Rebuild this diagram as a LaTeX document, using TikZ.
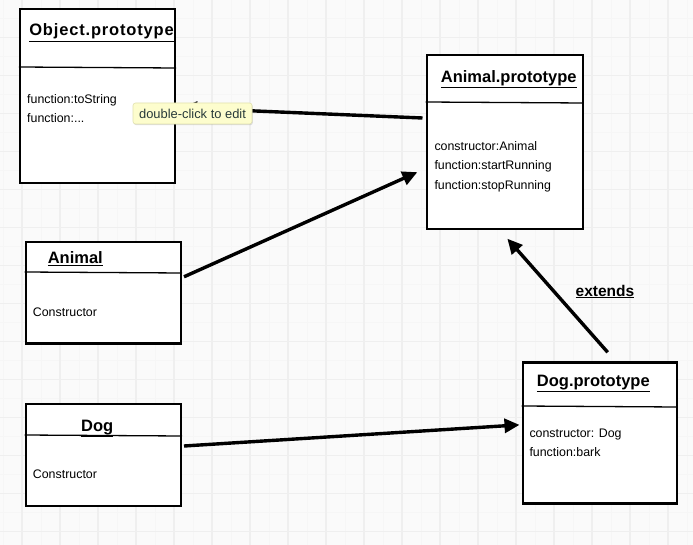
\documentclass[tikz,border=0pt]{standalone}
\usepackage{fontspec}
\setmainfont{Liberation Sans}
\usetikzlibrary{calc,arrows.meta,shadows}
\definecolor{bgc}{RGB}{250,250,250}
\definecolor{gmaj}{RGB}{239,239,239}
\definecolor{gmin}{RGB}{246,246,246}
\definecolor{tipfill}{RGB}{253,253,205}
\definecolor{tipdraw}{RGB}{225,225,175}
\definecolor{tiptext}{RGB}{40,58,58}
\tikzset{
  umlbox/.style={draw=black, line width=2.4pt, fill=white, inner sep=0pt},
  divider/.style={draw=black, line width=1.3pt},
  ttl/.style={anchor=base, inner sep=0pt, font=\fontsize{16.5}{18}\selectfont\bfseries},
  body/.style={anchor=base west, inner sep=0pt, font=\fontsize{12.4}{14}\selectfont},
  conn/.style={line width=3.4pt, -{Triangle[length=15pt,width=14pt]}, shorten >=-2pt},
}
\begin{document}
\begin{tikzpicture}[x=1pt,y=-1pt]
\useasboundingbox (0,0) rectangle (693,545);
\fill[bgc] (0,0) rectangle (693,545);
\foreach \i in {0,...,18} {
  \draw[gmin, line width=0.9pt] (3+38*\i,0) -- (3+38*\i,545);
}
\foreach \j in {0,...,14} {
  \draw[gmin, line width=0.9pt] (0,18.5+38*\j) -- (693,18.5+38*\j);
}
\foreach \i in {0,...,18} {
  \draw[gmaj, line width=1.6pt] (22+38*\i,0) -- (22+38*\i,545);
}
\foreach \j in {0,...,14} {
  \draw[gmaj, line width=1.6pt] (0,37.5+38*\j) -- (693,37.5+38*\j);
}

% boxes
\node[umlbox, minimum width=155pt, minimum height=174pt] (op) at (97.5,96) {};
\node[umlbox, minimum width=156pt, minimum height=174pt] (ap) at (504.7,142) {};
\node[umlbox, minimum width=155pt, minimum height=101pt] (an) at (103.3,292.8) {};
\node[umlbox, minimum width=155pt, minimum height=102pt] (dog) at (103.3,455) {};
\node[umlbox, minimum width=154pt, minimum height=141pt] (dp) at (599.7,433) {};

% dividers
\draw[divider] (op.west |- 0,67) -- (op.east |- 0,68);
\draw[divider] (ap.west |- 0,102) -- (ap.east |- 0,103);
\draw[divider] (an.west |- 0,272) -- (an.east |- 0,273);
\draw[divider] (dog.west |- 0,435) -- (dog.east |- 0,436);
\draw[divider] (dp.west |- 0,406) -- (dp.east |- 0,407);

% titles
\node[ttl] (opt) at (101.5,36) {\underline{\addfontfeature{LetterSpace=5}Object.prototype}};
\node[ttl] (apt) at (508.7,82.7) {\underline{Animal.prototype}};
\node[ttl] (ant) at (75.3,263.3) {\underline{Animal}};
\node[ttl] (dogt) at (97.2,431.7) {\underline{Dog}};
\node[ttl] (dpt) at (593.3,386.7) {\underline{Dog.prototype}};

% bodies
\node[body] (op1) at (27,103.3) {function:toString};
\node[body] (op2) at (27,122.7) {function:...};
\node[body] (ap1) at (434.3,150.7) {constructor:Animal};
\node[body] (ap2) at (434.3,170) {function:startRunning};
\node[body] (ap3) at (434.3,189.3) {function:stopRunning};
\node[body] (an1) at (32.7,316) {Constructor};
\node[body] (dog1) at (32.7,478.3) {Constructor};
\node[body] (dp1) at (529.3,437.3) {constructor: Dog};
\node[body] (dp2) at (529.3,456.7) {function:bark};

% connectors
\draw[conn] ($(ap.west)+(-3,-24)$) -- ($(op.east)+(8,12)$);
\draw[conn] ($(an.east)+(2,-16)$) -- ($(ap.west)+(-10,31)$);
\draw[conn] ($(dog.east)+(2,-9)$) -- ($(dp.west)+(-4,-8)$);
\draw[conn] ($(dp.north)+(8,-9)$) -- ($(ap.south)+(4,10)$);

\node[anchor=base, inner sep=0pt, font=\fontsize{15.5}{18}\selectfont\bfseries] (ext) at (605,296) {\underline{extends}};

% tooltip
\node[draw=tipdraw, fill=tipfill, rounded corners=2.5pt, line width=0.6pt,
      drop shadow={shadow xshift=0.8pt, shadow yshift=-1.2pt, opacity=0.25},
      minimum width=119pt, minimum height=21pt, inner sep=0pt,
      font=\fontsize{12.9}{14}\selectfont, text=tiptext] (tip) at (192.5,113.5) {double-click to edit};
\end{tikzpicture}
\end{document}
